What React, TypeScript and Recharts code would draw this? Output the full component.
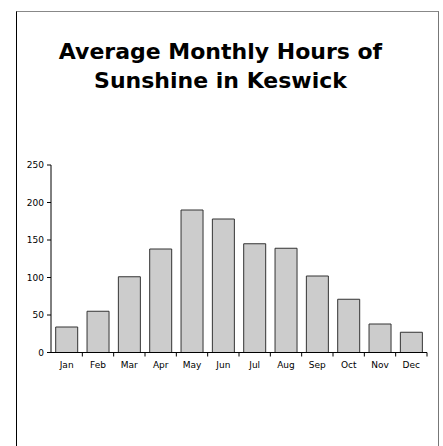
import { BarChart, Bar, XAxis, YAxis } from "recharts";

const months = ["Jan", "Feb", "Mar", "Apr", "May", "Jun", "Jul", "Aug", "Sep", "Oct", "Nov", "Dec"];
const hours = [34, 55, 101, 138, 190, 178, 145, 139, 102, 71, 38, 27];
const yTicks = [0, 50, 100, 150, 200, 250];

const data = months.map((m, i) => ({ month: m, hours: hours[i] }));

const FONT = "'DejaVu Sans', sans-serif";

// label under the band, tick mark on the band boundary
const MonthTick = (props: any) => {
  const { x, y, payload } = props;
  const edge = x + (payload.offset || 0);
  return (
    <g>
      <line x1={edge} y1={y} x2={edge} y2={y + 4} stroke="#000" />
      <text x={x} y={y + 15.5} textAnchor="middle" fontSize={9} fontFamily={FONT} fill="#000">
        {payload.value}
      </text>
    </g>
  );
};

export default function App() {
  return (
    <div style={{ position: "absolute", left: 0, top: 0, width: 443, height: 446, background: "#fff", overflow: "hidden" }}>
      <div
        style={{
          position: "absolute",
          left: 16,
          top: 11,
          width: 421,
          height: 460,
          borderTop: "1px solid #888",
          borderLeft: "1px solid #000",
          borderRight: "1px solid #777",
        }}
      />
      <div
        style={{
          position: "absolute",
          left: 0,
          top: 37,
          width: 441,
          textAlign: "center",
          fontFamily: FONT,
          fontWeight: "bold",
          fontSize: 22,
          lineHeight: "29px",
          color: "#000",
        }}
      >
        Average Monthly Hours of
        <br />
        Sunshine in Keswick
      </div>
      <div style={{ position: "absolute", left: 0, top: 0 }}>
        <BarChart
          width={443}
          height={446}
          data={data}
          margin={{ top: 165, right: 16, bottom: 73.5, left: 0 }}
          barCategoryGap="15%"
        >
          <XAxis
            dataKey="month"
            axisLine={{ stroke: "#000" }}
            tickLine={false}
            tickSize={0}
            tickMargin={0}
            height={20}
            interval={0}
            tick={<MonthTick />}
          />
          <YAxis
            width={51}
            domain={[0, 250]}
            ticks={yTicks}
            axisLine={{ stroke: "#000" }}
            tickLine={{ stroke: "#000" }}
            tickSize={4}
            tickMargin={3}
            tick={{ fontSize: 9, fontFamily: FONT, fill: "#000" }}
          />
          <Bar dataKey="hours" fill="#cccccc" stroke="#333" strokeWidth={1} isAnimationActive={false} />
        </BarChart>
      </div>
    </div>
  );
}
